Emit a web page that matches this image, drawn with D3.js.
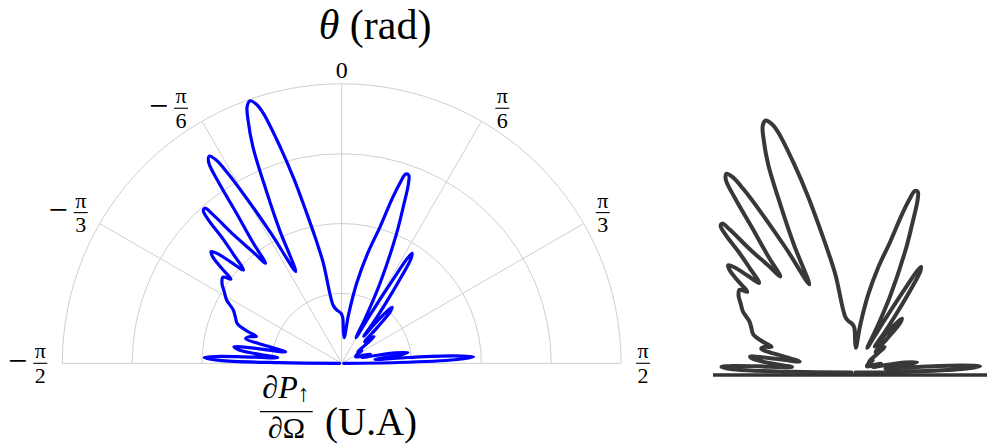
<!DOCTYPE html>
<html><head><meta charset="utf-8">
<script src="https://cdn.jsdelivr.net/npm/d3@7"></script>
<style>html,body{margin:0;padding:0;background:#fff;} svg{display:block;}</style>
</head><body>
<svg id="chart" width="987" height="448"></svg>
<script>
// ---- data (angle in degrees, radius in plot units; outer grid circle = 4) ----
const thetaDeg = [
 -90,-89.4,-88.6,-87.6,-86.9,-86.0,-85.0,-83.6,-82.4,-81.3,-80.4,-78.5,-77.0,-75.6,-74.0,-72.6,-71.3,-69.2,-66.5,-63.8,-61.2,-58.6,-56.3,-54.0,-52.8,
 -51.6,-50.4,-49.5,-48.6,-47.6,-46.5,
 -44.8,-43.7,-42.9,-42.2,-41.4,-40.9,-40.0,-38.6,-37.3,
 -36.3,-35.0,-34.2,-33.5,-32.6,-31.7,-31.0,-30.0,-28.5,-26.6,
 -25.0,-23.6,-22.3,-21.1,-20.2,-19.2,-18.2,-17.4,-15.9,-14.5,-13.1,-11.8,-10.4,-8.4,-5.5,-1.1,1.2,2.8,5.5,
 8.0,10.6,13.3,15.7,17.0,17.9,18.7,19.6,20.4,21.5,22.9,25.6,27.5,29.2,
 30.3,31.0,31.6,32.0,32.6,33.5,34.6,36.2,38.0,39.2,
 40.0,41.0,42.0,43.2,44.8,46.8,49.0,50.6,52.2,55.0,58.0,61.0,66.0,70.0,72.0,74.0,76.5,79.0,80.8,82.0,83.5,85.0,86.2,87.2,88.2,89.2,90
];
const rValue = [
 0.03,0.9,1.75,1.97,1.8,1.25,0.92,1.25,1.5,1.56,1.35,0.82,1.08,1.42,1.38,1.28,1.42,1.6,1.66,1.73,1.88,1.97,2.06,2.10,1.99,
 2.2,2.40,2.46,2.38,2.15,1.94,
 2.2,2.45,2.8,2.95,2.96,2.82,2.38,2.05,1.80,
 2.15,2.64,3.15,3.45,3.52,3.42,3.2,2.75,2.1,1.47,
 2.10,2.70,3.35,3.72,3.92,3.98,3.9,3.75,3.23,2.72,2.2,1.82,1.46,0.84,0.77,0.72,0.66,0.48,0.37,
 0.7,1.17,1.62,2.03,2.45,2.71,2.86,2.86,2.74,2.4,2.02,1.27,0.75,0.42,
 0.75,1.1,1.5,1.76,1.87,1.8,1.5,1.08,0.72,0.5,
 0.75,0.98,1.08,1.02,0.72,0.45,0.55,0.6,0.42,0.28,0.34,0.24,0.22,0.34,0.43,0.3,0.45,0.78,0.96,0.82,0.48,0.95,1.6,1.89,1.62,0.8,0.03
];
const gridRadii = [1, 2, 3, 4];
const spokeAngles = [-60, -30, 0, 30, 60];
const tickAngles = [-90, -60, -30, 0, 30, 60, 90];
const tickSign = ["−", "−", "−", "", "", "", ""];
const tickNum = ["π", "π", "π", "0", "π", "π", "π"];
const tickDen = ["2", "3", "6", "", "6", "3", "2"];
const titleSym = "θ", titleUnit = " (rad)";
const yLabelNum = ["∂", "P", "↑"], yLabelDen = "∂Ω", yLabelUnit = "(U.A)";

// ---- layout ----
const svg = d3.select("#chart");
const cx = 341.7, cy = 363.3, R = 279.4;
const serif = "'Liberation Serif', 'DejaVu Serif', serif";

const aScale = d3.scaleLinear().domain([-90, 90]).range([-Math.PI / 2, Math.PI / 2]);
const rScale = d3.scaleLinear().domain([0, 4]).range([0, R]);
const data = thetaDeg.map((t, i) => ({t, r: rValue[i]}));

const polar = (a, r) => [Math.sin(a) * r, -Math.cos(a) * r];

// grid
const g = svg.append("g").attr("transform", `translate(${cx},${cy})`);
gridRadii.forEach(v => {
  const p = d3.path();
  p.arc(0, 0, rScale(v), Math.PI, 2 * Math.PI, false);
  g.append("path").attr("d", p.toString()).attr("fill", "none")
    .attr("stroke", "#cfcfcf").attr("stroke-width", 1);
});
g.append("line").attr("x1", -rScale(4)).attr("x2", rScale(4)).attr("y1", 0).attr("y2", 0)
  .attr("stroke", "#cfcfcf").attr("stroke-width", 1);
spokeAngles.forEach(d => {
  const [x, y] = polar(aScale(d), rScale(4));
  g.append("line").attr("x1", 0).attr("y1", 0).attr("x2", x).attr("y2", y)
    .attr("stroke", "#cfcfcf").attr("stroke-width", 1);
});

// curve
const line = d3.lineRadial()
  .angle(d => aScale(d.t))
  .radius(d => rScale(d.r))
  .curve(d3.curveCatmullRom.alpha(0.5));
g.append("path").datum(data).attr("d", line).attr("fill", "none")
  .attr("stroke", "#0000ff").attr("stroke-width", 3.2)
  .attr("stroke-linejoin", "round").attr("stroke-linecap", "round");

// tick labels
tickAngles.forEach((d, i) => {
  let ad = d;
  if (Math.abs(d) === 30) ad = d + Math.sign(d) * 2.2;
  if (tickDen[i] === "") {
    const [x, y] = polar(aScale(ad), R + 14);
    g.append("text").attr("x", x).attr("y", y + 8.5).attr("text-anchor", "middle")
      .attr("font-family", serif).attr("font-size", 24).text(tickNum[i]);
    return;
  }
  const [x, y] = polar(aScale(ad), R + 22);
  const lg = g.append("g").attr("transform", `translate(${x},${y})`);
  lg.append("text").attr("x", 0).attr("y", -5).attr("text-anchor", "middle")
    .attr("font-family", serif).attr("font-size", 22).text(tickNum[i]);
  lg.append("line").attr("x1", -7).attr("x2", 7).attr("y1", 0).attr("y2", 0)
    .attr("stroke", "#000").attr("stroke-width", 1.1);
  lg.append("text").attr("x", 0).attr("y", 19.6).attr("text-anchor", "middle")
    .attr("font-family", serif).attr("font-size", 22).text(tickDen[i]);
  if (tickSign[i]) {
    lg.append("text").attr("x", -13).attr("y", 8.5).attr("text-anchor", "end")
      .attr("font-family", serif).attr("font-size", 34).text(tickSign[i]);
  }
});

// title
const tt = svg.append("text").attr("x", 375).attr("y", 39).attr("text-anchor", "middle")
  .attr("font-family", serif).attr("font-size", 42);
tt.append("tspan").attr("font-style", "italic").text(titleSym);
tt.append("tspan").text(titleUnit);

// bottom label: fraction + unit
const bl = svg.append("g");
const nt = bl.append("text").attr("x", 286).attr("y", 398).attr("text-anchor", "middle")
  .attr("font-family", serif).attr("font-size", 32);
nt.append("tspan").text(yLabelNum[0]);
nt.append("tspan").attr("font-style", "italic").text(yLabelNum[1]);
nt.append("tspan").attr("font-size", 24).attr("dy", 3).text(yLabelNum[2]);
bl.append("line").attr("x1", 260).attr("x2", 312.7).attr("y1", 411.7).attr("y2", 411.7)
  .attr("stroke", "#000").attr("stroke-width", 1.3);
bl.append("text").attr("x", 286.5).attr("y", 438).attr("text-anchor", "middle")
  .attr("font-family", serif).attr("font-size", 30).text(yLabelDen);
bl.append("text").attr("x", 325).attr("y", 435).attr("text-anchor", "start")
  .attr("font-family", serif).attr("font-size", 39).text(yLabelUnit);

// gray replica
const gx = 853.5, gy = 372.5;
const rScale2 = d3.scaleLinear().domain([0, 4]).range([0, R * 0.96]);
const g2 = svg.append("g").attr("transform", `translate(${gx},${gy})`);
const line2 = d3.lineRadial()
  .angle(d => aScale(d.t))
  .radius(d => rScale2(d.r))
  .curve(d3.curveCatmullRom.alpha(0.5));
g2.append("path").datum(data).attr("d", line2).attr("fill", "none")
  .attr("stroke", "#383838").attr("stroke-width", 4)
  .attr("stroke-linejoin", "round").attr("stroke-linecap", "round");
svg.append("line").attr("x1", 713).attr("x2", 987).attr("y1", 375).attr("y2", 375)
  .attr("stroke", "#333").attr("stroke-width", 3.3);
</script>
</body></html>
